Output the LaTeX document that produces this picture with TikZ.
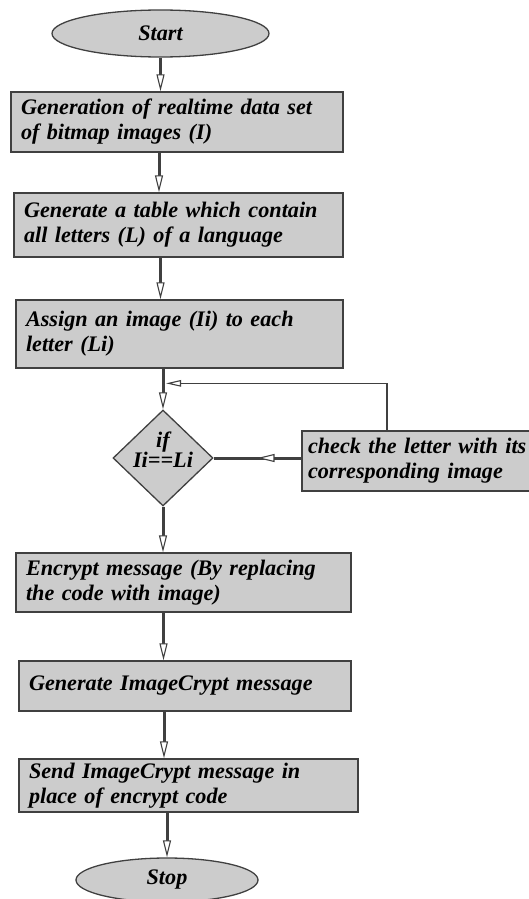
\documentclass[tikz,border=0pt]{standalone}
\usepackage{fontspec}
\setmainfont{Liberation Serif}
\usetikzlibrary{arrows.meta,shapes.geometric,decorations.markings}
\newcommand{\flowfont}{\bfseries\itshape\fontsize{22.2}{25}\selectfont}
\begin{document}
\begin{tikzpicture}[x=1pt,y=-1pt,
  box/.style={draw=black!75, line width=1.3pt, fill=black!20, rectangle,
    inner xsep=10pt, inner ysep=0pt, align=left, font=\flowfont},
  term/.style={draw=black!75, line width=1.3pt, fill=black!20, ellipse,
    inner sep=0pt, font=\flowfont},
  dia/.style={draw=black!75, line width=1.3pt, fill=black!20, diamond,
    inner sep=0pt, font=\flowfont},
  flow/.style={draw=black!75, line width=3pt,
    -{Triangle[length=17pt,width=8pt,line width=1.1pt,fill=white]}},
  back/.style={draw=black!75, line width=1.3pt,
    -{Triangle[length=15pt,width=6.5pt,line width=1.1pt,fill=white]}},
  midarrow/.style={draw=black!75, line width=3pt,
    postaction={decorate},
    decoration={markings, mark=at position 0.5 with
      {\arrow{Triangle[length=17pt,width=8pt,line width=1.1pt,fill=white]}}}}
]
\useasboundingbox (0,0) rectangle (529,899);
\clip (0,0) rectangle (529,899);

\node[term, minimum width=217pt, minimum height=47pt] (start) at (160.5,33.5) {Start};
\node[box, text width=312pt, minimum height=60pt] (b1) at (177,122)
  {Generation of realtime data set\\of bitmap images (I)};
\node[box, text width=309pt, minimum height=64pt] (b2) at (178.5,225)
  {Generate a table which contain\\all letters (L) of a language};
\node[box, text width=307pt, minimum height=68pt] (b3) at (179.5,334)
  {Assign an image (Ii) to each\\letter (Li)};
\node[dia, minimum width=100pt, minimum height=96pt] (dec) at (163,458)
  {\smash{\begin{tabular}{@{}c@{}}if\\[-5pt]Ii==Li\end{tabular}}};
\node[box, inner xsep=6pt, text width=228pt, minimum height=60pt] (chk) at (422,461)
  {check the letter with its\\corresponding image};
\node[box, text width=315pt, minimum height=59pt] (enc) at (183.5,582.5)
  {Encrypt message (By replacing\\the code with image)};
\node[box, text width=312pt, minimum height=50pt] (gen) at (185,686)
  {Generate ImageCrypt message};
\node[box, text width=319pt, minimum height=53pt] (send) at (188.5,785.5)
  {Send ImageCrypt message in\\place of encrypt code};
\node[term, minimum width=182pt, minimum height=44pt] (stop) at (167,880) {Stop};

\draw[flow] (start.south) -- (start.south |- b1.north);
\draw[flow] ([xshift=-18pt]b1.south) -- ([xshift=-18pt]b1.south |- b2.north);
\draw[flow] ([xshift=-18pt]b2.south) -- ([xshift=-18pt]b2.south |- b3.north);
\draw[flow] (b3.south -| dec.north) -- (dec.north);
\draw[back] ([xshift=-35pt]chk.north) |- ([xshift=3pt,yshift=26pt]dec.north);
\draw[midarrow] (chk.west |- dec.east) -- (dec.east);
\draw[flow] (dec.south) -- (dec.south |- enc.north);
\draw[flow] ([xshift=-20pt]enc.south) -- ([xshift=-20pt]enc.south |- gen.north);
\draw[flow] ([xshift=-21pt]gen.south) -- ([xshift=-21pt]gen.south |- send.north);
\draw[flow] (send.south -| stop.north) -- (stop.north);
\end{tikzpicture}
\end{document}
